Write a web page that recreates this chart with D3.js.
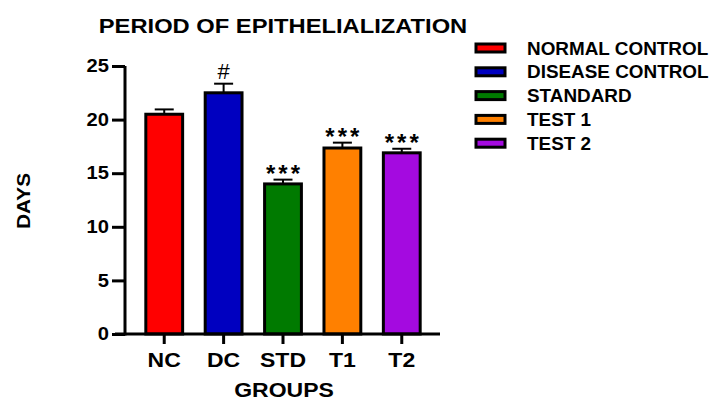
<!DOCTYPE html>
<html>
<head>
<meta charset="utf-8">
<script src="https://cdn.jsdelivr.net/npm/d3@7"></script>
<style>
  body { margin: 0; background: #fff; }
  text { font-family: "Liberation Sans", Arial, sans-serif; font-weight: bold; fill: #000; }
</style>
</head>
<body>
<div id="chart"></div>
<script>
// chart data
var groups = ["NC", "DC", "STD", "T1", "T2"];
var legendNames = ["NORMAL CONTROL", "DISEASE CONTROL", "STANDARD", "TEST 1", "TEST 2"];
var means = [20.5, 22.5, 14.0, 17.35, 16.9];
var sems = [0.45, 0.85, 0.4, 0.5, 0.38];
var marks = ["", "#", "***", "***", "***"];
var colors = ["#ff0000", "#0000c0", "#007a00", "#ff8000", "#a40ae0"];
var yTicks = [0, 5, 10, 15, 20, 25];

var svgWidth = 717;
var svgHeight = 403;

var svg = d3.select("#chart")
    .append("svg")
    .attr("width", svgWidth)
    .attr("height", svgHeight);

// the original text is a bit wider than Liberation Sans, stretch it sideways
function stretchedText(parent, x, y, s, size, str, rot) {
    return parent.append("text")
        .attr("transform", `translate(${x}, ${y})` + (rot ? ` rotate(${rot})` : "") + ` scale(${s}, 1)`)
        .attr("text-anchor", "middle")
        .attr("font-size", size)
        .text(str);
}

// plot area
var x0 = 125, x1 = 440, yTop = 66, yBot = 334;

var xScale = d3.scaleBand()
    .domain(groups)
    .range([128, 438])
    .paddingInner(0.38)
    .paddingOuter(0.3);

var yScale = d3.scaleLinear()
    .domain([0, 25])
    .range([yBot, yTop]);

// bars
svg.selectAll(".bar")
    .data(groups)
    .enter()
    .append("rect")
    .attr("class", "bar")
    .attr("x", d => xScale(d))
    .attr("width", xScale.bandwidth())
    .attr("y", (d, i) => yScale(means[i]))
    .attr("height", (d, i) => yBot - yScale(means[i]))
    .attr("fill", (d, i) => colors[i])
    .attr("stroke", "#000")
    .attr("stroke-width", 3);

// error bars (upper only) + significance marks
var err = svg.append("g");
groups.forEach(function(g, i) {
    var cx = xScale(g) + xScale.bandwidth() / 2;
    var top = yScale(means[i] + sems[i]);
    err.append("line")
        .attr("x1", cx).attr("x2", cx)
        .attr("y1", yScale(means[i])).attr("y2", top)
        .attr("stroke", "#000").attr("stroke-width", 2);
    err.append("line")
        .attr("x1", cx - 9.5).attr("x2", cx + 9.5)
        .attr("y1", top).attr("y2", top)
        .attr("stroke", "#000").attr("stroke-width", 2);
    if (marks[i] == "#") {
        err.append("text")
            .attr("x", cx).attr("y", top - 5)
            .attr("text-anchor", "middle")
            .attr("font-size", "22px")
            .style("font-weight", "normal")
            .text(marks[i]);
    } else if (marks[i]) {
        err.append("text")
            .attr("x", cx + 1.5).attr("y", top + 2)
            .attr("text-anchor", "middle")
            .attr("font-size", "24px")
            .style("letter-spacing", "3px")
            .text(marks[i]);
    }
});

// y axis
var yAxis = d3.axisLeft(yScale).tickValues(yTicks).tickSize(13).tickPadding(3);
var yG = svg.append("g")
    .attr("transform", `translate(${x0}, 0)`)
    .call(yAxis);
yG.select(".domain").attr("stroke-width", 3).attr("d", `M0,${yBot + 1.5}V${yTop}`);
yG.selectAll(".tick line").attr("stroke-width", 3);
yG.selectAll(".tick text")
    .attr("font-size", "18px")
    .attr("x", -16 / 1.12)
    .attr("transform", "scale(1.12, 1)")
    .style("font-family", "'Liberation Sans', Arial, sans-serif");

// x axis
var xAxis = d3.axisBottom(xScale).tickSize(10).tickPadding(9);
var xG = svg.append("g")
    .attr("transform", `translate(0, ${yBot})`)
    .call(xAxis);
xG.select(".domain").attr("stroke-width", 3).attr("d", `M${x0 - 10},0H${x1}`);
xG.selectAll(".tick line").attr("stroke-width", 3);
xG.selectAll(".tick text")
    .attr("font-size", "20px")
    .attr("transform", "scale(1.15, 1)")
    .style("font-family", "'Liberation Sans', Arial, sans-serif");

// titles
stretchedText(svg, 283, 33, 1.13, "21px", "PERIOD OF EPITHELIALIZATION");
stretchedText(svg, 284, 397, 1.15, "20px", "GROUPS");
stretchedText(svg, 30, 201, 1.1, "19px", "DAYS", -90);

// legend
var legend = svg.selectAll(".legend")
    .data(legendNames)
    .enter()
    .append("g")
    .attr("transform", (d, i) => `translate(476, ${48 + i * 23.8})`);
legend.append("rect")
    .attr("x", 0).attr("y", -4)
    .attr("width", 29).attr("height", 8)
    .attr("fill", (d, i) => colors[i])
    .attr("stroke", "#000").attr("stroke-width", 3);
legend.append("text")
    .attr("transform", "translate(51, 6.5) scale(1.08, 1)")
    .attr("font-size", "17.5px")
    .text(d => d);
</script>
</body>
</html>
